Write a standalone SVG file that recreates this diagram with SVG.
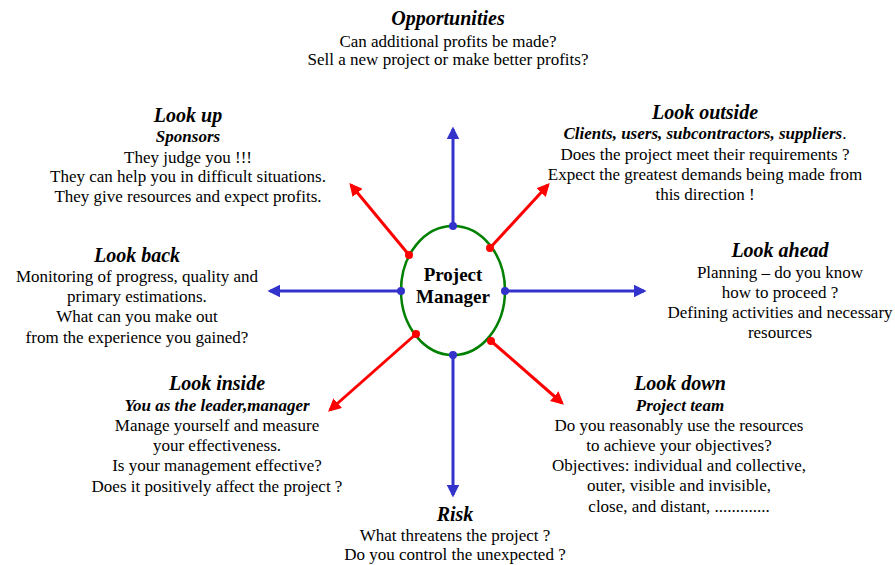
<svg xmlns="http://www.w3.org/2000/svg" width="895" height="565" viewBox="0 0 895 565">
<defs>
<style>
text{font-family:'Liberation Serif','Times New Roman',Times,serif;fill:#000;text-anchor:middle}
.t{font-size:20px;font-weight:bold;font-style:italic}
.s{font-size:17px;font-weight:bold;font-style:italic}
.b{font-size:17px}
.pm{font-size:19px;font-weight:bold}
.red{stroke:#FF0000;stroke-width:3;fill:none}
.blue{stroke:#3333CC;stroke-width:3;fill:none}
</style>
<marker id="ar" viewBox="0 0 10 10" refX="8" refY="5" markerWidth="4.3" markerHeight="4.3" orient="auto" markerUnits="strokeWidth"><path d="M0,0 L10,5 L0,10 z" fill="#FF0000"/></marker>
<marker id="ab" viewBox="0 0 10 10" refX="8" refY="5" markerWidth="4.3" markerHeight="4.3" orient="auto" markerUnits="strokeWidth"><path d="M0,0 L10,5 L0,10 z" fill="#3333CC"/></marker>
</defs>
<rect width="895" height="565" fill="#fff"/>
<g id="connectors">
<line class="blue" x1="453" y1="226" x2="453" y2="129" marker-end="url(#ab)"/>
<line class="blue" x1="453" y1="355" x2="453" y2="495" marker-end="url(#ab)"/>
<line class="blue" x1="401" y1="291" x2="270" y2="291" marker-end="url(#ab)"/>
<line class="blue" x1="505" y1="291" x2="644" y2="291" marker-end="url(#ab)"/>
<line class="red" x1="409" y1="255" x2="351" y2="185" marker-end="url(#ar)"/>
<line class="red" x1="490" y1="248" x2="548" y2="185" marker-end="url(#ar)"/>
<line class="red" x1="416" y1="334" x2="330" y2="410" marker-end="url(#ar)"/>
<line class="red" x1="491" y1="341" x2="562" y2="403" marker-end="url(#ar)"/>
</g>
<g font-family="Liberation Serif, serif">
<g id="pm">
<ellipse cx="453" cy="290.5" rx="52" ry="64.5" fill="#fff" stroke="#008000" stroke-width="2.5"/>
<text class="pm" x="453" y="281">Project</text>
<text class="pm" x="453" y="303">Manager</text>
<g fill="#3333CC">
<circle cx="453" cy="226" r="4"/><circle cx="453" cy="355" r="4"/><circle cx="401" cy="291" r="4"/><circle cx="505" cy="291" r="4"/>
</g>
<g fill="#FF0000">
<circle cx="409" cy="255" r="4"/><circle cx="490" cy="248" r="4"/><circle cx="416" cy="334" r="4"/><circle cx="491" cy="341" r="4"/>
</g>
</g>
<g id="opportunities">
<text class="t" x="448" y="25">Opportunities</text>
<text class="b" x="448" y="47">Can additional profits be made?</text>
<text class="b" x="448" y="65">Sell a new project or make better profits?</text>
</g>
<g id="lookup">
<text class="t" x="188" y="122">Look up</text>
<text class="s" x="188" y="142">Sponsors</text>
<text class="b" x="188" y="163">They judge you !!!</text>
<text class="b" x="188" y="182">They can help you in difficult situations.</text>
<text class="b" x="188" y="202">They give resources and expect profits.</text>
</g>
<g id="lookoutside">
<text class="t" x="705" y="119">Look outside</text>
<text class="s" x="705" y="139">Clients, users, subcontractors, suppliers<tspan font-weight="normal" font-style="normal">.</tspan></text>
<text class="b" x="705" y="160">Does the project meet their requirements ?</text>
<text class="b" x="705" y="180">Expect the greatest demands being made from</text>
<text class="b" x="705" y="200">this direction !</text>
</g>
<g id="lookback">
<text class="t" x="137" y="262">Look back</text>
<text class="b" x="137" y="282">Monitoring of progress, quality and</text>
<text class="b" x="137" y="302">primary estimations.</text>
<text class="b" x="137" y="322">What can you make out</text>
<text class="b" x="137" y="343">from the experience you gained?</text>
</g>
<g id="lookahead">
<text class="t" x="780" y="257">Look ahead</text>
<text class="b" x="780" y="278">Planning – do you know</text>
<text class="b" x="780" y="298">how to  proceed ?</text>
<text class="b" x="780" y="318">Defining activities and necessary</text>
<text class="b" x="780" y="338">resources</text>
</g>
<g id="lookinside">
<text class="t" x="217" y="390">Look inside</text>
<text class="s" x="217" y="411">You as the leader,manager</text>
<text class="b" x="217" y="431">Manage yourself and measure</text>
<text class="b" x="217" y="451">your effectiveness.</text>
<text class="b" x="217" y="471">Is your management effective?</text>
<text class="b" x="217" y="492">Does it positively affect the project ?</text>
</g>
<g id="lookdown">
<text class="t" x="680" y="390">Look down</text>
<text class="s" x="680" y="411">Project team</text>
<text class="b" x="679" y="431">Do you reasonably use the resources</text>
<text class="b" x="679" y="451">to achieve your objectives?</text>
<text class="b" x="679" y="471">Objectives: individual and collective,</text>
<text class="b" x="679" y="491">outer, visible and invisible,</text>
<text class="b" x="679" y="512">close, and distant, .............</text>
</g>
<g id="risk">
<text class="t" x="455" y="521">Risk</text>
<text class="b" x="455" y="541">What threatens the project ?</text>
<text class="b" x="455" y="560">Do you control the unexpected ?</text>
</g>
</g>
</svg>
